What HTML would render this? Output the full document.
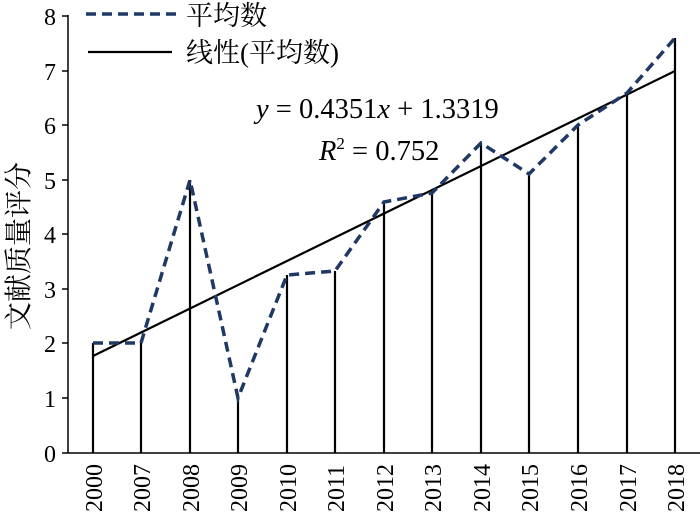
<!DOCTYPE html>
<html><head><meta charset="utf-8"><style>
body{margin:0;background:#fff;}
svg text{font-family:"Liberation Serif","Noto Serif CJK SC",serif;fill:#000;}
</style></head><body>
<svg width="700" height="522" xmlns="http://www.w3.org/2000/svg">
<g stroke="#000" stroke-width="1.5">
<line x1="68" y1="15" x2="68" y2="453"/>
<line x1="68" y1="453" x2="700" y2="453"/>
<line x1="62" y1="16" x2="68" y2="16"/>
<line x1="62" y1="71" x2="68" y2="71"/>
<line x1="62" y1="125" x2="68" y2="125"/>
<line x1="62" y1="180" x2="68" y2="180"/>
<line x1="62" y1="234" x2="68" y2="234"/>
<line x1="62" y1="289" x2="68" y2="289"/>
<line x1="62" y1="343" x2="68" y2="343"/>
<line x1="62" y1="398" x2="68" y2="398"/>
<line x1="62" y1="453" x2="68" y2="453"/>
</g>
<g stroke="#000" stroke-width="2.2">
<line x1="93" y1="453" x2="93" y2="343"/>
<line x1="141" y1="453" x2="141" y2="343"/>
<line x1="190" y1="453" x2="190" y2="180"/>
<line x1="238" y1="453" x2="238" y2="398"/>
<line x1="287" y1="453" x2="287" y2="275"/>
<line x1="335" y1="453" x2="335" y2="271"/>
<line x1="384" y1="453" x2="384" y2="202"/>
<line x1="432" y1="453" x2="432" y2="193"/>
<line x1="481" y1="453" x2="481" y2="143"/>
<line x1="529" y1="453" x2="529" y2="174"/>
<line x1="578" y1="453" x2="578" y2="125"/>
<line x1="627" y1="453" x2="627" y2="93"/>
<line x1="675" y1="453" x2="675" y2="38"/>
</g>
<line x1="93" y1="356" x2="675" y2="71" stroke="#000" stroke-width="2.2"/>
<polyline fill="none" stroke="#1f3864" stroke-width="3.5" stroke-dasharray="10,6" points="93,343 141,343 190,180 238,398 287,275 335,271 384,202 432,193 481,143 529,174 578,125 627,93 675,38"/>
<g font-size="24" text-anchor="end">
<text x="56" y="25">8</text><text x="56" y="80">7</text><text x="56" y="134">6</text>
<text x="56" y="189">5</text><text x="56" y="243">4</text><text x="56" y="298">3</text>
<text x="56" y="352">2</text><text x="56" y="407">1</text><text x="56" y="462">0</text>
</g>
<g font-size="24">
<text transform="translate(102,512) rotate(-90)">2000</text>
<text transform="translate(150,512) rotate(-90)">2007</text>
<text transform="translate(199,512) rotate(-90)">2008</text>
<text transform="translate(247,512) rotate(-90)">2009</text>
<text transform="translate(296,512) rotate(-90)">2010</text>
<text transform="translate(344,512) rotate(-90)">2011</text>
<text transform="translate(393,512) rotate(-90)">2012</text>
<text transform="translate(441,512) rotate(-90)">2013</text>
<text transform="translate(490,512) rotate(-90)">2014</text>
<text transform="translate(538,512) rotate(-90)">2015</text>
<text transform="translate(587,512) rotate(-90)">2016</text>
<text transform="translate(636,512) rotate(-90)">2017</text>
<text transform="translate(684,512) rotate(-90)">2018</text>
</g>
<text transform="translate(28,330) rotate(-90)" font-size="28">文献质量评分</text>
<line x1="86" y1="14" x2="176" y2="14" stroke="#1f3864" stroke-width="3.5" stroke-dasharray="10,6"/>
<text x="186" y="25" font-size="27">平均数</text>
<line x1="88" y1="52" x2="172" y2="52" stroke="#000" stroke-width="2.2"/>
<text x="186" y="62" font-size="27">线性(平均数)</text>
<text x="256" y="118" font-size="28.5"><tspan font-style="italic">y</tspan> = 0.4351<tspan font-style="italic">x</tspan> + 1.3319</text>
<text x="319" y="160" font-size="28.5"><tspan font-style="italic">R</tspan><tspan font-size="17" dy="-11">2</tspan><tspan dy="11"> = 0.752</tspan></text>
</svg>
</body></html>
